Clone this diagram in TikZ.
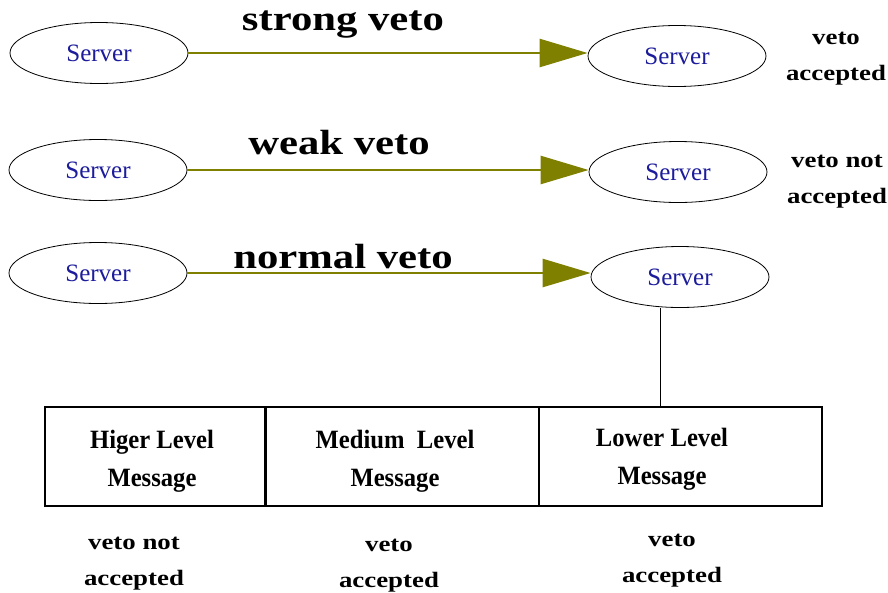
\documentclass[tikz,border=0pt]{standalone}
\usepackage{fontspec}
\usepackage{graphicx}
\setmainfont{Liberation Serif}
\usetikzlibrary{shapes.geometric,arrows.meta}
\definecolor{vetoolive}{HTML}{808000}
\definecolor{servblue}{HTML}{1C1C9C}
% horizontally stretched text for the wide bold labels
\newcommand\wideword[1]{\scalebox{1.22}[1]{#1}}
\newcommand\tallword[1]{\scalebox{1.12}[1.2]{#1}}
\begin{document}
\begin{tikzpicture}[x=1pt,y=-1pt,
  server/.style={ellipse,draw,line width=0.8pt,minimum width=178pt,minimum height=61pt,
    inner sep=0pt,text=servblue,font=\fontsize{25}{25}\selectfont},
  vetoarrow/.style={draw=vetoolive,line width=2.6pt,
    -{Triangle[length=48pt,width=28pt,fill=vetoolive]}},
  vetolabel/.style={font=\fontsize{35}{35}\selectfont\bfseries},
  note/.style={font=\fontsize{22}{36}\selectfont\bfseries,align=center},
  level/.style={rectangle,draw,line width=1.2pt,minimum height=99pt,inner sep=0pt,
    font=\fontsize{22}{38}\selectfont\bfseries,align=center}]
\useasboundingbox (0,0) rectangle (888,592);

% three pairs of servers
\node[server] (s1l) at (99,53) {Server};
\node[server] (s1r) at (677,56) {Server};
\node[server] (s2l) at (98,170) {Server};
\node[server] (s2r) at (678,172) {Server};
\node[server] (s3l) at (98,273) {Server};
\node[server] (s3r) at (680,277) {Server};

% veto arrows
\draw[vetoarrow] (s1l.east) -- (s1r.west |- s1l.east);
\draw[vetoarrow] (s2l.east) -- (s2r.west |- s2l.east);
\draw[vetoarrow] (s3l.east) -- (s3r.west |- s3l.east);

\node[vetolabel] (l1) at (343,25) {\wideword{strong veto}};
\node[vetolabel] (l2) at (339,143) {\wideword{weak veto}};
\node[vetolabel] (l3) at (343,257) {\wideword{normal veto}};

\node[note] (r1) at (836,59) {\wideword{veto}\\\wideword{accepted}};
\node[note] (r2) at (837,182) {\wideword{veto not}\\\wideword{accepted}};

% message levels
\node[level,minimum width=220pt] (hi) at (155,456.5) {};
\node[level,minimum width=274pt] (med) at (402,456.5) {};
\node[level,minimum width=283pt] (lo) at (680.5,456.5) {};
\draw[line width=2.6pt] (hi.north east) -- (hi.south east);
\node[level,draw=none,minimum height=0pt] (hit) at (152,461) {\tallword{Higer Level}\\\tallword{Message}};
\node[level,draw=none,minimum height=0pt] (medt) at (395,461) {\tallword{Medium\ \ Level}\\\tallword{Message}};
\node[level,draw=none,minimum height=0pt] (lot) at (662,459) {\tallword{Lower Level}\\\tallword{Message}};

\coordinate (drop) at (660,407);
\draw[line width=0.8pt] (drop |- s3r.south) -- (drop);

\node[note] (b1) at (134,564) {\wideword{veto not}\\\wideword{accepted}};
\node[note] (b2) at (389,566) {\wideword{veto}\\\wideword{accepted}};
\node[note] (b3) at (672,561) {\wideword{veto}\\\wideword{accepted}};
\end{tikzpicture}
\end{document}
